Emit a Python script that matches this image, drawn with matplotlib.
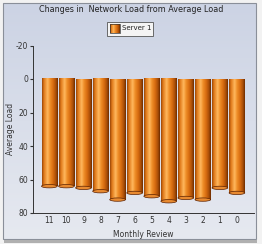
import numpy as np
import matplotlib
matplotlib.use('Agg')
from matplotlib import pyplot as plt
from matplotlib.colors import LinearSegmentedColormap
from matplotlib.patches import Rectangle, Ellipse

plt.rcParams['axes.unicode_minus'] = False

months = ['11', '10', '9', '8', '7', '6', '5', '4', '3', '2', '1', '0']
load = [64, 64, 65, 67, 72, 68, 70, 73, 71, 72, 65, 68]
yticks = [-20, 0, 20, 40, 60, 80]

fig = plt.figure(figsize=(2.62, 2.44), dpi=100)
fig.patch.set_facecolor('#f2f2f2')

# panel background
bg = fig.add_axes([0, 0, 1, 1], zorder=-10)
bg.axis('off')
vgrad = np.linspace(0, 1, 100).reshape(-1, 1)
panel_cmap = LinearSegmentedColormap.from_list('panel', ['#ccd3e4', '#e6e9f0'])
bg.imshow(vgrad, cmap=panel_cmap, aspect='auto', extent=(3, 256, 239, 3))
bg.add_patch(Rectangle((3, 3), 253, 236, fill=False, ec='#8a8f99', lw=0.8))
bg.add_patch(Rectangle((4, 239.5), 253, 3, fc='#b0b0b0', ec='none'))

ax = fig.add_axes([33 / 262, 31 / 244, 221 / 262, 167.5 / 244])
ax.patch.set_alpha(0)

bar_cmap = LinearSegmentedColormap.from_list(
    'cyl', [(0.0, '#9a4608'), (0.12, '#e07a1a'), (0.35, '#ffb85e'), (0.5, '#f0902a'),
            (0.7, '#d86c10'), (0.88, '#a84e08'), (1.0, '#6e2c00')])
hgrad = np.linspace(0, 1, 64).reshape(1, -1)
w = 0.92
x = np.arange(len(months))
for xi, v in zip(x, load):
    ax.imshow(hgrad, cmap=bar_cmap, aspect='auto', extent=(xi - w / 2, xi + w / 2, v, 0), zorder=2)
    ax.add_patch(Ellipse((xi, v), w, 2.0, fc='#e88a30', ec='#5a2000', lw=0.5, zorder=3))

ax.set_xlim(-0.96, 12.0)
ax.set_ylim(80, -20)
ax.set_xticks(x)
ax.set_xticklabels(months)
ax.set_yticks(yticks)
ax.tick_params(axis='x', length=0, labelsize=5.5, colors='#333333', pad=2)
ax.tick_params(axis='y', length=2, labelsize=5.5, colors='#333333', pad=1.5)
for s in ['top', 'right']:
    ax.spines[s].set_visible(False)
for s in ['left', 'bottom']:
    ax.spines[s].set_color('#333333')
    ax.spines[s].set_linewidth(0.7)
ax.set_ylabel('Average Load', fontsize=5.5, color='#333333')
ax.yaxis.set_label_coords(-17.5 / 221, 0.5)
ax.set_xlabel('Monthly Review', fontsize=5.5, color='#333333')
ax.xaxis.set_label_coords(0.5, -17 / 167.5)

fig.text(0.5, 0.963, 'Changes in  Network Load from Average Load', ha='center', va='center',
         fontsize=5.8, color='#222222')

# legend
bg.add_patch(Rectangle((107, 21.5), 46, 14, fc='#f4f4f4', ec='#555555', lw=0.6, zorder=1))
bg.imshow(hgrad, cmap=bar_cmap, aspect='auto', extent=(110, 120, 33, 24), zorder=3)
bg.add_patch(Rectangle((110, 24), 10, 9, fill=False, ec='#333333', lw=0.5, zorder=4))
bg.text(122, 28.5, 'Server 1', fontsize=5, va='center', ha='left', color='#222222', zorder=4)
bg.set_xlim(0, 262)
bg.set_ylim(244, 0)

fig.savefig('out.png', dpi=100)
